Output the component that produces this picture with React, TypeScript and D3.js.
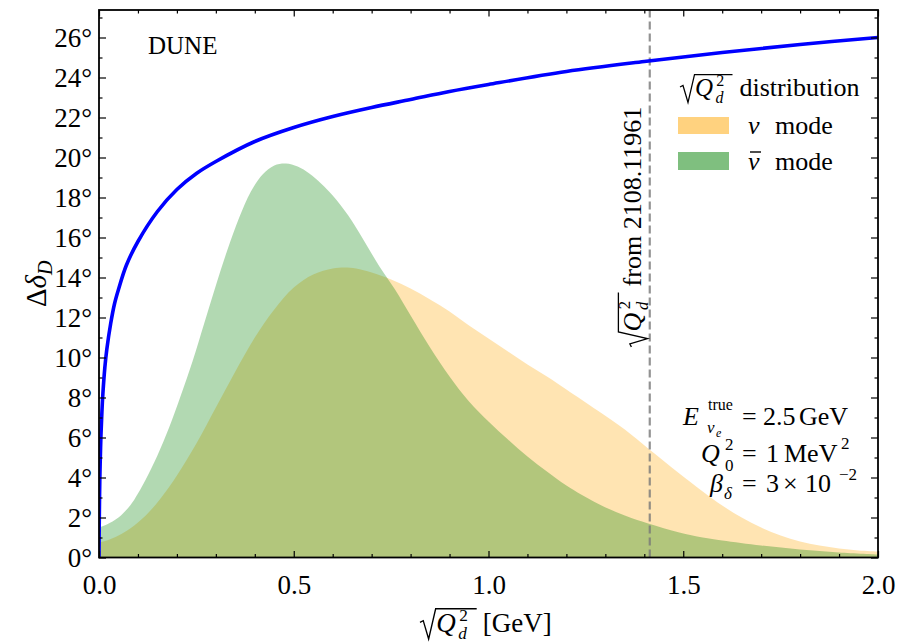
import React, { useEffect, useRef } from "react";
import * as d3 from "d3";

// Δδ_D (degrees) against sqrt(Q_d^2) in GeV
const deltaX = [0, 0.0005, 0.001, 0.002, 0.003, 0.005, 0.0075, 0.01, 0.015, 0.02, 0.03, 0.04, 0.05, 0.07, 0.1, 0.15, 0.2, 0.25, 0.3, 0.4, 0.5, 0.6, 0.7, 0.8, 0.9, 1.0, 1.2, 1.4, 1.6, 1.8, 2.0];
const deltaY = [0, 1.4, 2.4, 3.8, 4.7, 6.1, 7.3, 8.2, 9.5, 10.4, 11.7, 12.7, 13.4, 14.6, 15.8, 17.3, 18.4, 19.2, 19.8, 20.8, 21.5, 22.05, 22.5, 22.9, 23.3, 23.65, 24.3, 24.8, 25.25, 25.65, 26.0];

// sqrt(Q_d^2) distribution, nu mode (orange)
const nuX = [0, 0.02, 0.05, 0.08, 0.12, 0.16, 0.2, 0.25, 0.3, 0.35, 0.4, 0.45, 0.5, 0.55, 0.6, 0.63, 0.66, 0.7, 0.75, 0.8, 0.85, 0.9, 0.95, 1.0, 1.05, 1.1, 1.15, 1.2, 1.28, 1.35, 1.41, 1.49, 1.55, 1.6, 1.65, 1.7, 1.75, 1.8, 1.85, 1.9, 1.95, 2.0];
const nuY = [0.75, 0.85, 1.1, 1.45, 2.1, 3.0, 4.1, 5.7, 7.5, 9.3, 11.0, 12.4, 13.5, 14.15, 14.45, 14.5, 14.45, 14.25, 13.9, 13.45, 12.9, 12.3, 11.6, 10.95, 10.3, 9.65, 9.05, 8.4, 7.35, 6.4, 5.45, 4.2, 3.3, 2.6, 2.0, 1.5, 1.1, 0.8, 0.6, 0.45, 0.35, 0.3];

// sqrt(Q_d^2) distribution, anti-nu mode (green)
const nubarX = [0, 0.02, 0.05, 0.08, 0.1, 0.12, 0.15, 0.18, 0.21, 0.24, 0.27, 0.3, 0.33, 0.36, 0.39, 0.42, 0.45, 0.48, 0.51, 0.54, 0.57, 0.6, 0.64, 0.68, 0.72, 0.76, 0.8, 0.85, 0.9, 0.95, 1.0, 1.05, 1.1, 1.15, 1.2, 1.28, 1.35, 1.41, 1.49, 1.55, 1.6, 1.7, 1.8, 1.9, 2.0];
const nubarY = [1.5, 1.65, 2.0, 2.6, 3.2, 3.9, 5.1, 6.5, 8.1, 9.8, 11.7, 13.6, 15.4, 17.0, 18.3, 19.15, 19.6, 19.7, 19.55, 19.2, 18.7, 18.1, 17.1, 15.85, 14.55, 13.4, 12.1, 10.5, 9.05, 7.8, 6.8, 5.9, 5.05, 4.3, 3.6, 2.7, 2.1, 1.7, 1.25, 1.0, 0.85, 0.6, 0.4, 0.25, 0.15];

// sqrt(Q_d^2) from 2108.11961
const refQd = 1.414;

const xMajor = [0, 0.5, 1.0, 1.5, 2.0];
const xMinor = [0.1, 0.2, 0.3, 0.4, 0.6, 0.7, 0.8, 0.9, 1.1, 1.2, 1.3, 1.4, 1.6, 1.7, 1.8, 1.9];
const yMajor = [0, 2, 4, 6, 8, 10, 12, 14, 16, 18, 20, 22, 24, 26];
const yMinor = [1, 3, 5, 7, 9, 11, 13, 15, 17, 19, 21, 23, 25, 27];

const FONT = "Liberation Serif";

function addText(g, x, y, str, size, italic = false, anchor = "start") {
  return g
    .append("text")
    .attr("x", x)
    .attr("y", y)
    .attr("font-size", size)
    .attr("font-family", FONT)
    .attr("font-style", italic ? "italic" : "normal")
    .attr("text-anchor", anchor)
    .attr("fill", "black")
    .text(str);
}

// radical sign + Q_d^2, returns right end of the overbar
function addSqrtQd(g, x, y, fs) {
  const w = 2.1 * fs;
  g.append("path")
    .attr(
      "d",
      `M${x},${y - 0.36 * fs} L${x + 0.12 * fs},${y - 0.42 * fs} L${x + 0.32 * fs},${y + 0.26 * fs} L${x + 0.58 * fs},${y - 0.86 * fs} L${x + w},${y - 0.86 * fs}`
    )
    .attr("fill", "none")
    .attr("stroke", "black")
    .attr("stroke-width", fs * 0.05);
  addText(g, x + 0.6 * fs, y, "Q", fs, true);
  addText(g, x + 1.45 * fs, y - 0.42 * fs, "2", fs * 0.64);
  addText(g, x + 1.42 * fs, y + 0.26 * fs, "d", fs * 0.64, true);
  return x + w;
}

export default function App() {
  const ref = useRef(null);

  useEffect(() => {
    const svg = d3.select(ref.current);
    svg.selectAll("*").remove();

    const x = d3.scaleLinear().domain([0, 2]).range([99, 878]);
    const y = d3.scaleLinear().domain([0, 27.375]).range([557.5, 10]);
    const [x0, x1] = x.range();
    const [yb, yt] = y.range();

    svg
      .append("defs")
      .append("clipPath")
      .attr("id", "plot-clip")
      .append("rect")
      .attr("x", x0)
      .attr("y", yt)
      .attr("width", x1 - x0)
      .attr("height", yb - yt);

    const plot = svg.append("g").attr("clip-path", "url(#plot-clip)");

    const area = d3
      .area()
      .x((d) => x(d[0]))
      .y0(y(0))
      .y1((d) => y(d[1]))
      .curve(d3.curveCatmullRom.alpha(0.5));

    plot
      .append("path")
      .datum(d3.zip(nuX, nuY))
      .attr("d", area)
      .attr("fill", "orange")
      .attr("fill-opacity", 0.3);

    plot
      .append("path")
      .datum(d3.zip(nubarX, nubarY))
      .attr("d", area)
      .attr("fill", "green")
      .attr("fill-opacity", 0.3);

    // reference value line
    plot
      .append("line")
      .attr("x1", x(refQd))
      .attr("x2", x(refQd))
      .attr("y1", yb)
      .attr("y2", yt)
      .attr("stroke", "#777")
      .attr("stroke-opacity", 0.8)
      .attr("stroke-width", 2.2)
      .attr("stroke-dasharray", "8,4");

    const line = d3
      .line()
      .x((d) => x(d[0]))
      .y((d) => y(d[1]))
      .curve(d3.curveCatmullRom.alpha(0.5));

    plot
      .append("path")
      .datum(d3.zip(deltaX, deltaY))
      .attr("d", line)
      .attr("fill", "none")
      .attr("stroke", "#0000ff")
      .attr("stroke-width", 3.6);

    // axes, ticks pointing inwards on all four sides
    const styleAxis = (g) => {
      g.select(".domain").remove();
      g.selectAll("line").attr("stroke", "black").attr("stroke-width", 1.2);
      g.attr("font-size", 27).attr("font-family", FONT);
      g.selectAll("text").attr("fill", "black");
    };

    svg
      .append("g")
      .attr("transform", `translate(0,${yb})`)
      .call(d3.axisBottom(x).tickValues(xMajor).tickSize(-6.5).tickPadding(17).tickFormat(d3.format(".1f")))
      .call(styleAxis);
    svg
      .append("g")
      .attr("transform", `translate(0,${yb})`)
      .call(d3.axisBottom(x).tickValues(xMinor).tickSize(-3.5).tickFormat(() => ""))
      .call(styleAxis);
    svg
      .append("g")
      .attr("transform", `translate(0,${yt})`)
      .call(d3.axisTop(x).tickValues(xMajor).tickSize(-6.5).tickFormat(() => ""))
      .call(styleAxis);
    svg
      .append("g")
      .attr("transform", `translate(0,${yt})`)
      .call(d3.axisTop(x).tickValues(xMinor).tickSize(-3.5).tickFormat(() => ""))
      .call(styleAxis);

    svg
      .append("g")
      .attr("transform", `translate(${x0},0)`)
      .call(d3.axisLeft(y).tickValues(yMajor).tickSize(-7).tickPadding(7).tickFormat((d) => `${d}°`))
      .call(styleAxis);
    svg
      .append("g")
      .attr("transform", `translate(${x0},0)`)
      .call(d3.axisLeft(y).tickValues(yMinor).tickSize(-3.5).tickFormat(() => ""))
      .call(styleAxis);
    svg
      .append("g")
      .attr("transform", `translate(${x1},0)`)
      .call(d3.axisRight(y).tickValues(yMajor).tickSize(-7).tickFormat(() => ""))
      .call(styleAxis);
    svg
      .append("g")
      .attr("transform", `translate(${x1},0)`)
      .call(d3.axisRight(y).tickValues(yMinor).tickSize(-3.5).tickFormat(() => ""))
      .call(styleAxis);

    svg
      .append("rect")
      .attr("x", x0)
      .attr("y", yt)
      .attr("width", x1 - x0)
      .attr("height", yb - yt)
      .attr("fill", "none")
      .attr("stroke", "black")
      .attr("stroke-width", 1.8);

    // axis titles
    const ylab = svg.append("g").attr("transform", `translate(46,${(yb + yt) / 2}) rotate(-90)`);
    const yt1 = ylab
      .append("text")
      .attr("text-anchor", "middle")
      .attr("font-family", FONT)
      .attr("font-size", 29)
      .attr("fill", "black");
    yt1.append("tspan").text("Δ");
    yt1.append("tspan").attr("font-style", "italic").text("δ");
    yt1.append("tspan").attr("font-style", "italic").attr("font-size", 20).attr("dy", 6).text("D");

    const xEnd = addSqrtQd(svg, 420, 632, 27);
    addText(svg, xEnd + 6, 632, "[GeV]", 27);

    // labels inside the plot
    addText(svg, 148, 54, "DUNE", 25);

    const vlab = svg.append("g").attr("transform", `translate(${x(refQd) - 9},347) rotate(-90)`);
    const vEnd = addSqrtQd(vlab, 0, 0, 26);
    addText(vlab, vEnd + 6, 0, "from 2108.11961", 26);

    // legend
    const legTitleEnd = addSqrtQd(svg, 680, 96, 25);
    addText(svg, legTitleEnd + 7, 96, "distribution", 26);
    svg.append("rect").attr("x", 678).attr("y", 117).attr("width", 51).attr("height", 17).attr("fill", "orange").attr("fill-opacity", 0.5);
    svg.append("rect").attr("x", 678).attr("y", 152).attr("width", 51).attr("height", 18).attr("fill", "green").attr("fill-opacity", 0.5);
    addText(svg, 748, 134, "ν", 26, true);
    addText(svg, 775, 134, "mode", 26);
    addText(svg, 748, 170, "ν", 26, true);
    svg.append("line").attr("x1", 750).attr("x2", 761).attr("y1", 152).attr("y2", 152).attr("stroke", "black").attr("stroke-width", 1.4);
    addText(svg, 775, 170, "mode", 26);

    // parameter box
    addText(svg, 683, 425, "E", 26, true);
    addText(svg, 708, 410, "true", 16);
    addText(svg, 707, 433, "ν", 17, true);
    addText(svg, 716, 437, "e", 12, true);
    addText(svg, 742, 425, "=", 26);
    addText(svg, 763, 425, "2.5", 26);
    addText(svg, 799, 425, "GeV", 26);

    addText(svg, 701, 462, "Q", 26, true);
    addText(svg, 725, 450, "2", 17);
    addText(svg, 725, 471, "0", 17);
    addText(svg, 742, 462, "=", 26);
    addText(svg, 766, 462, "1", 26);
    addText(svg, 784, 462, "MeV", 26);
    addText(svg, 841, 449, "2", 17);

    addText(svg, 710, 492, "β", 26, true);
    addText(svg, 724, 499, "δ", 17, true);
    addText(svg, 742, 492, "=", 26);
    addText(svg, 766, 492, "3", 26);
    addText(svg, 783, 492, "×", 26);
    addText(svg, 805, 492, "10", 26);
    addText(svg, 839, 480, "−2", 17);
  }, []);

  return (
    <svg
      ref={ref}
      width={907}
      height={642}
      style={{ position: "absolute", left: 0, top: 0, background: "white" }}
    />
  );
}
